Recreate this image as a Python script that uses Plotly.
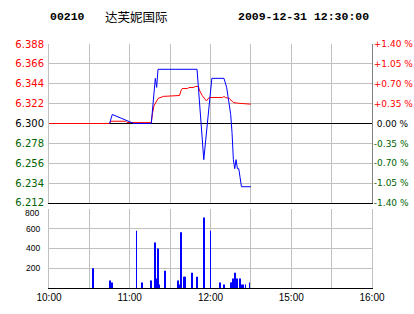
import plotly.graph_objects as go

# ---------------- data ----------------
stock_code = "00210"
stock_name = "达芙妮国际"
stamp = "2009-12-31 12:30:00"
prev_close = 6.300

price_ticks = [6.212, 6.234, 6.256, 6.278, 6.300, 6.322, 6.344, 6.366, 6.388]
time_ticks = [0, 30, 60, 90, 120, 150, 180, 210, 240]          # minutes of trading since 10:00
time_labels = ["10:00", "", "11:00", "", "12:00", "", "15:00", "", "16:00"]
vol_ticks = [200, 400, 600, 800]

# last price (minute of session, price)
price_t = [45, 47, 63, 76, 79, 80, 81, 110, 115, 121, 130, 132, 133, 134, 135,
           136, 137, 138, 139, 140, 141, 142, 143, 150]
price_v = [6.30, 6.31, 6.30, 6.30, 6.35, 6.34, 6.36, 6.36, 6.26, 6.35, 6.35, 6.34,
           6.33, 6.32, 6.31, 6.29, 6.26, 6.25, 6.26, 6.25, 6.25, 6.24, 6.23, 6.23]

# average price
avg_t = [0, 45, 46, 57, 58, 76, 77, 78, 80, 81, 85, 97, 98, 99, 103, 104, 107, 109,
         111, 112, 114, 116, 117, 119, 129, 130, 131, 134, 136, 137, 140, 144, 150]
avg_v = [6.300, 6.300, 6.3025, 6.3025, 6.301, 6.301, 6.312, 6.3195, 6.325, 6.3277,
         6.330, 6.331, 6.336, 6.3387, 6.3387, 6.3398, 6.3398, 6.341, 6.341, 6.3361,
         6.3306, 6.3261, 6.325, 6.3288, 6.3288, 6.330, 6.3288, 6.3277, 6.325, 6.3232,
         6.3225, 6.322, 6.3214]

# volume
vol_t = [33, 45, 47, 65, 69, 76, 79, 80, 81, 82, 86, 96, 97, 98, 100, 101, 106, 110,
         115, 120, 127, 130, 135, 136, 137, 138, 139, 140, 142, 143, 144, 146, 149]
vol_v = [200, 75, 55, 580, 55, 75, 460, 95, 400, 35, 175, 75, 35, 565, 115, 115, 155,
         115, 715, 580, 55, 35, 55, 55, 95, 155, 55, 95, 95, 35, 35, 35, 55]

# ---------------- styling ----------------
UP, DOWN, FLAT = "#ff0000", "#006400", "#000000"
GRID = "#c0c0c0"
BLUE = "#0000ff"


def colour(p):
    if p > prev_close + 1e-9:
        return UP
    if p < prev_close - 1e-9:
        return DOWN
    return FLAT


left_text = ['<span style="color:%s">%.3f</span>' % (colour(p), p) for p in price_ticks]
right_text = []
for p in price_ticks:
    pct = (p - prev_close) / prev_close * 100
    if abs(pct) < 1e-9:
        s = "\u00a00.00 %"
    else:
        s = "%+.2f %%" % pct
    right_text.append('<span style="color:%s">%s</span>' % (colour(p), s))

fig = go.Figure()
# previous close reference line on the main price axis
fig.add_trace(go.Scatter(x=[time_ticks[0], time_ticks[-1]], y=[prev_close, prev_close],
                         mode="lines", line=dict(color="#000000", width=1),
                         xaxis="x", yaxis="y", hoverinfo="skip"))
# average and last price on the overlaid (percent-labelled) axis with identical range
fig.add_trace(go.Scatter(x=avg_t, y=avg_v, mode="lines", line=dict(color=UP, width=1),
                         xaxis="x", yaxis="y3"))
fig.add_trace(go.Scatter(x=price_t, y=price_v, mode="lines", line=dict(color=BLUE, width=1),
                         xaxis="x", yaxis="y3"))
fig.add_trace(go.Bar(x=vol_t, y=vol_v, width=0.7, marker=dict(color=BLUE, line=dict(width=0)),
                     xaxis="x2", yaxis="y2"))

rng_t = [time_ticks[0], time_ticks[-1]]
rng_p = [price_ticks[0], price_ticks[-1]]

fig.update_layout(
    width=414, height=314,
    margin=dict(l=49, r=42, t=44, b=26, autoexpand=False),
    paper_bgcolor="#ffffff", plot_bgcolor="#ffffff",
    showlegend=False,
    xaxis=dict(domain=[0, 1], range=rng_t, tickmode="array", tickvals=time_ticks,
               showticklabels=False, showgrid=True, gridcolor=GRID, gridwidth=1,
               zeroline=False, showline=True, linecolor="#000000", linewidth=1,
               anchor="y", automargin=False),
    yaxis=dict(domain=[0.3484, 1], range=rng_p, tickmode="array", tickvals=price_ticks,
               ticktext=left_text, showgrid=True, gridcolor=GRID, gridwidth=1,
               zeroline=False, showline=True, linecolor=GRID, mirror=True,
               tickfont=dict(family="DejaVu Sans", size=10), ticks="",
               ticklabelstandoff=2, anchor="x", automargin=False),
    yaxis3=dict(overlaying="y", side="right", range=rng_p, tickmode="array",
                tickvals=price_ticks, ticktext=right_text, showgrid=False, zeroline=False,
                showline=True, linecolor="#808080", ticks="", ticklabelstandoff=-1,
                tickfont=dict(family="DejaVu Sans", size=9), anchor="x",
                automargin=False),
    xaxis2=dict(domain=[0, 1], range=rng_t, tickmode="array", tickvals=time_ticks,
                ticktext=time_labels, showgrid=True, gridcolor=GRID, zeroline=False,
                showline=True, linecolor="#000000", linewidth=1, ticks="",
                tickfont=dict(family="Liberation Sans", size=10, color="#000000"),
                anchor="y2", automargin=False),
    yaxis2=dict(domain=[0, 0.3238], range=[0, vol_ticks[-1]], tickmode="array",
                tickvals=vol_ticks[:-1], showgrid=True, gridcolor=GRID, zeroline=False,
                showline=True, linecolor=GRID, mirror=True, ticks="",
                ticklabelstandoff=6,
                tickfont=dict(family="Liberation Sans", size=8.5, color="#000000"),
                anchor="x2", automargin=False),
)

# top volume tick label sits slightly below its gridline in the reference
fig.add_annotation(text=str(vol_ticks[-1]), xref="paper", yref="y2", x=0, y=vol_ticks[-1],
                   xanchor="right", yanchor="middle", xshift=-8, yshift=-4,
                   showarrow=False, font=dict(family="Liberation Sans", size=8.5, color="#000000"))

title_font = dict(family="Liberation Mono", size=11.5, color="#000000")
fig.add_annotation(text="<b>%s</b>" % stock_code, xref="paper", yref="paper",
                   x=-0.003, y=1.1127, xanchor="left", yanchor="middle",
                   showarrow=False, font=title_font)
fig.add_annotation(text=stock_name, xref="paper", yref="paper",
                   x=0.167, y=1.1127, xanchor="left", yanchor="middle",
                   showarrow=False, font=dict(family="Noto Sans CJK SC", size=12.5, color="#000000"))
fig.add_annotation(text="<b>%s</b>" % stamp, xref="paper", yref="paper",
                   x=0.578, y=1.1127, xanchor="left", yanchor="middle",
                   showarrow=False, font=title_font)

fig.write_html("out.html", config={"displayModeBar": False})
